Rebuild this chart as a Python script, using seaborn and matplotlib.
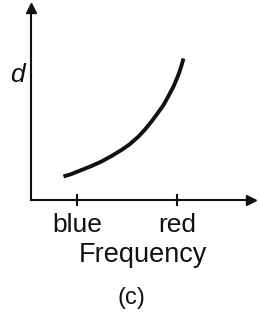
import matplotlib
matplotlib.use("Agg")
import matplotlib.pyplot as plt
import seaborn as sns
import pandas as pd

# datos (unidades arbitrarias)
frecuencia = [0.65, 0.81, 1.01, 1.21, 1.41, 1.61, 1.81, 1.98, 2.15, 2.28,
              2.41, 2.53, 2.65, 2.75, 2.85, 2.91, 2.965, 3.01, 3.05]
d_valores = [0.47, 0.52, 0.60, 0.68, 0.77, 0.88, 1.00, 1.12, 1.27, 1.41,
             1.57, 1.73, 1.90, 2.08, 2.27, 2.41, 2.55, 2.69, 2.83]
ticks_pos = [0.92, 2.92]
ticks_etiquetas = ["blue", "red"]

sns.set_style("white")
plt.rcParams["font.family"] = ["Liberation Sans", "DejaVu Sans"]

datos = pd.DataFrame({"frecuencia": frecuencia, "d": d_valores})

fig = plt.figure(figsize=(2.59, 3.20), dpi=100)
ax = fig.add_axes([31 / 259, 120 / 320, 220 / 259, 192 / 320])

sns.lineplot(data=datos, x="frecuencia", y="d", ax=ax, color="#111111",
             linewidth=2.8, solid_capstyle="butt", solid_joinstyle="round")

ax.set_xlim(0, 4.4)
ax.set_ylim(0, 3.84)

for lado in ["top", "right"]:
    ax.spines[lado].set_visible(False)
for lado in ["left", "bottom"]:
    ax.spines[lado].set_color("#111111")
    ax.spines[lado].set_linewidth(1.5)

# flechas de los ejes
ax.plot(1, 0, ">", color="#111111", markersize=7, transform=ax.get_yaxis_transform(), clip_on=False)
ax.plot(0, 1, "^", color="#111111", markersize=7, transform=ax.get_xaxis_transform(), clip_on=False)

ax.set_xticks(ticks_pos)
ax.set_xticklabels(ticks_etiquetas, fontsize=19)
ax.set_yticks([])
ax.tick_params(axis="x", direction="inout", length=8, width=1.5, color="#111111",
               pad=5, labelcolor="#111111", bottom=True)

ax.set_xlabel("Frequency", fontsize=19.5, color="#111111")
ax.xaxis.set_label_coords(112 / 220, -42 / 192)
ax.set_ylabel("d", fontsize=19, style="italic", rotation=0, color="#111111",
              ha="center", va="center")
ax.yaxis.set_label_coords(-14 / 220, 125 / 192)

fig.text(131 / 259, 1 - 298 / 320, "(c)", fontsize=17, ha="center", va="center", color="#111111")

fig.savefig("out.png", dpi=100, facecolor="white")
